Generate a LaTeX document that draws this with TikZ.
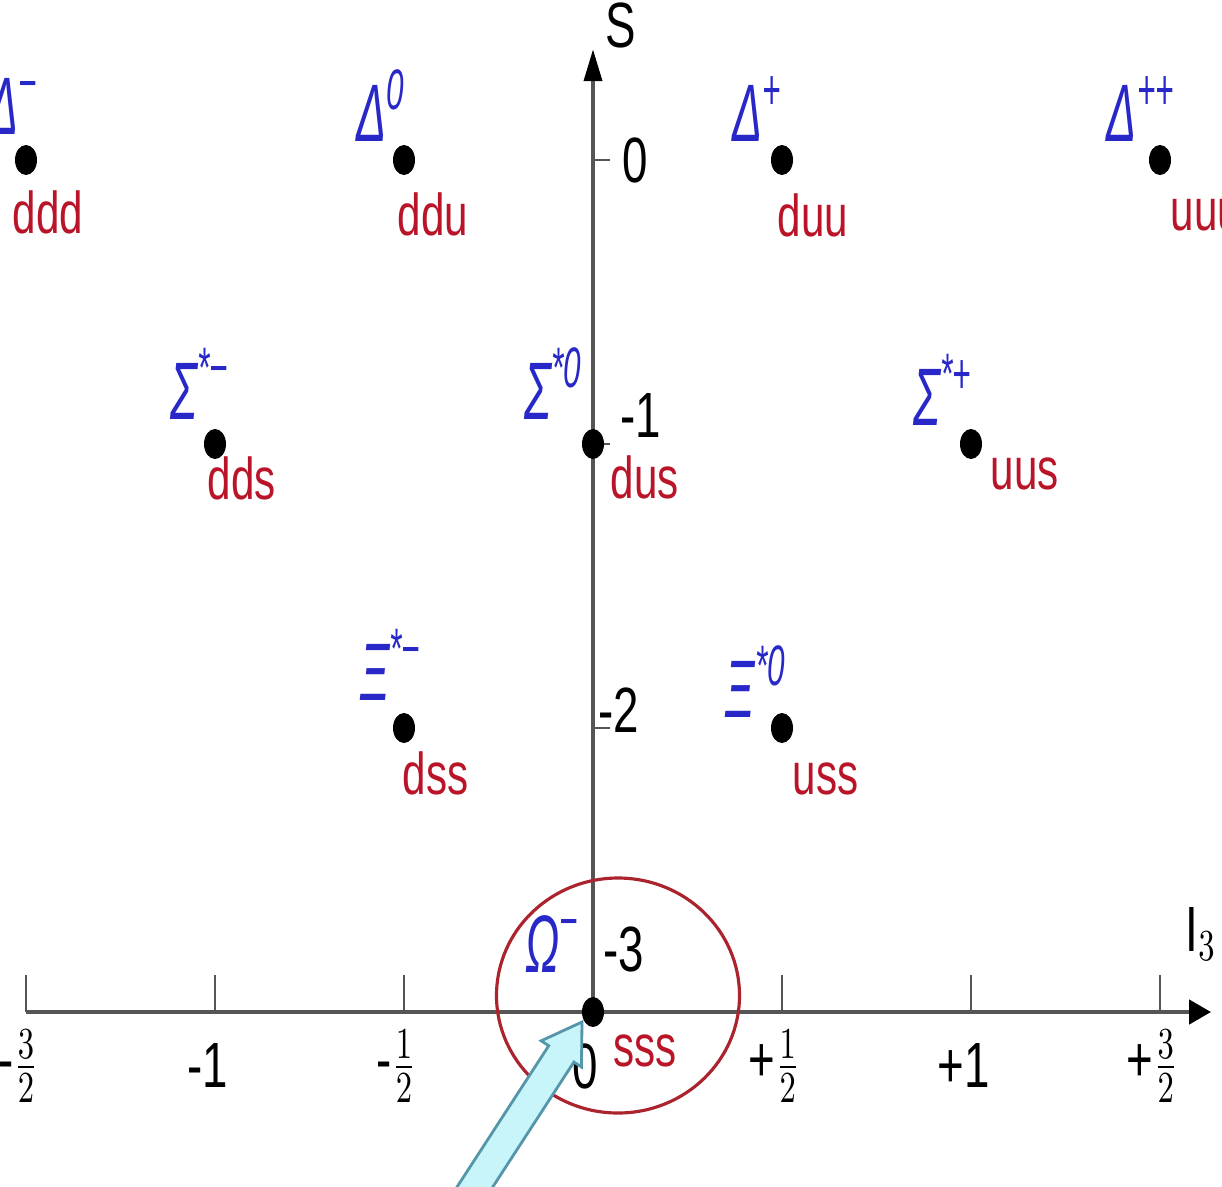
\documentclass[tikz,border=0pt]{standalone}
\usepackage{amsmath}
\usepackage{fontspec}
\setmainfont{Liberation Sans}
\usepackage{graphicx}
\usetikzlibrary{arrows.meta, shapes.geometric, positioning, calc}
\definecolor{hadronblue}{RGB}{40,40,200}
\definecolor{quarkred}{RGB}{185,20,40}
\definecolor{ringred}{RGB}{170,35,45}
\definecolor{axisgray}{RGB}{85,85,85}
\definecolor{pointerfill}{RGB}{200,245,250}
\definecolor{pointerline}{RGB}{85,150,170}
\newcommand{\tallbox}[1]{\scalebox{1}[1.4]{#1}}
\newcommand{\hadbox}[1]{\scalebox{0.8}[1.45]{#1}}

\begin{document}
\begin{tikzpicture}[x=3.78cm, y=2.84cm,
    dot/.style={ellipse, fill=black, minimum width=0.22cm, minimum height=0.30cm, inner sep=0},
    hadron/.style={text=hadronblue, font=\fontsize{16}{18}\selectfont\itshape, inner sep=0, anchor=south east},
    quark/.style={text=quarkred, font=\fontsize{12}{14}\selectfont, inner sep=0, anchor=north west},
    tick/.style={axisgray, line width=0.8pt},
    num/.style={font=\fontsize{13}{15}\selectfont, inner sep=0}]
        \useasboundingbox (-1.5688,-3.6127) rectangle (1.6640,0.5634);

        % Axes
        \coordinate (origin) at (0,-3);
        \coordinate (xstart) at (-1.5,-3);
        \coordinate (xtip) at (1.635,-3);
        \coordinate (ytip) at (0,0.39);
        \draw[axisgray, line width=1.3pt, -{Triangle[length=0.22cm, width=0.24cm, color=black]}] (xstart) -- (xtip);
        \draw[axisgray, line width=1.1pt, -{Triangle[length=0.32cm, width=0.18cm, color=black]}] (origin) -- (ytip);
        \node[num] (slabel) at (0.074,0.475) {\tallbox{S}};
        \node[num, anchor=south west] (ilabel) at (1.566,-2.82) {\tallbox{$\mathrm{I}_3$}};

        % I3 ticks
        \foreach \x/\t [count=\i] in {-1.5/{-$\tfrac{3}{2}$}, -1/{-1}, -0.5/{-$\tfrac{1}{2}$}, 0/0,
                                      0.5/{+$\tfrac{1}{2}$}, 1/{+1}, 1.5/{+$\tfrac{3}{2}$}}
        {
            \draw[tick] (\x,-3) -- (\x,-2.87);
            \node[num] (ix\i) at (\x-0.02,-3.19) {\tallbox{\t}};
        }

        % S ticks
        \foreach \s in {0,-1,-2}
            \draw[tick] (0,\s) -- (0.045,\s);
        \node[num, anchor=west] (s0) at (0.077,0) {\tallbox{0}};
        \node[num, anchor=west] (s1) at (0.071,-0.90) {\tallbox{-1}};
        \node[num, anchor=west] (s2) at (0.012,-1.937) {\tallbox{-2}};
        \node[num, anchor=west] (s3) at (0.026,-2.78) {\tallbox{-3}};

        % Ring round sss
        \draw[ringred, line width=0.9pt] ($(origin)+(0.25cm,0.165cm)$) ellipse [x radius=1.215cm, y radius=1.175cm];

        % Decuplet
        \foreach \nm/\xx/\ss/\had/\qk/\hx/\hy/\qx/\qy in {
            ddd/-1.5/0/{Δ\textsuperscript{−}}/ddd/0.13/0.25/-0.14/-0.30,
            ddu/-0.5/0/{Δ\textsuperscript{0}}/ddu/0.02/0.18/-0.07/-0.32,
            duu/0.5/0/{Δ\textsuperscript{+}}/duu/0.01/0.18/-0.05/-0.33,
            uuu/1.5/0/{Δ\textsuperscript{++}}/uuu/0.16/0.18/0.10/-0.27,
            dds/-1/-1/{Σ\textsuperscript{*−}}/dds/0.15/0.24/-0.08/-0.12,
            dus/0/-1/{Σ\textsuperscript{*0}}/dus/-0.10/0.24/0.17/-0.11,
            uus/1/-1/{Σ\textsuperscript{*+}}/uus/0.02/0.18/0.19/-0.02,
            dss/-0.5/-2/{Ξ\textsuperscript{*−}}/dss/0.18/0.27/-0.02/-0.23,
            uss/0.5/-2/{Ξ\textsuperscript{*0}}/uss/0.05/0.10/0.10/-0.23,
            sss/0/-3/{Ω\textsuperscript{−}}/sss/-0.13/0.39/0.20/-0.11}
        {
            \node[dot] (\nm) at (\xx,\ss) {};
            \node[hadron, xshift=\hx cm, yshift=\hy cm] (h\nm) at (\nm) {\hadbox{\had}};
            \node[quark, xshift=\qx cm, yshift=\qy cm] (q\nm) at (\nm) {\tallbox{\vphantom{d}\qk}};
        }

        % Pointer
        \coordinate (ptip) at ($(sss.center)+(-0.11cm,-0.10cm)$);
        \begin{scope}[shift={(ptip)}, rotate=237, x=1cm, y=1cm]
            \draw[pointerline, fill=pointerfill, line width=0.8pt]
                (0,0) -- (0.38,0.24) -- (0.38,0.15) -- (2.3,0.15) -- (2.3,-0.15)
                -- (0.38,-0.15) -- (0.38,-0.24) -- cycle;
        \end{scope}
    \end{tikzpicture}
\end{document}
